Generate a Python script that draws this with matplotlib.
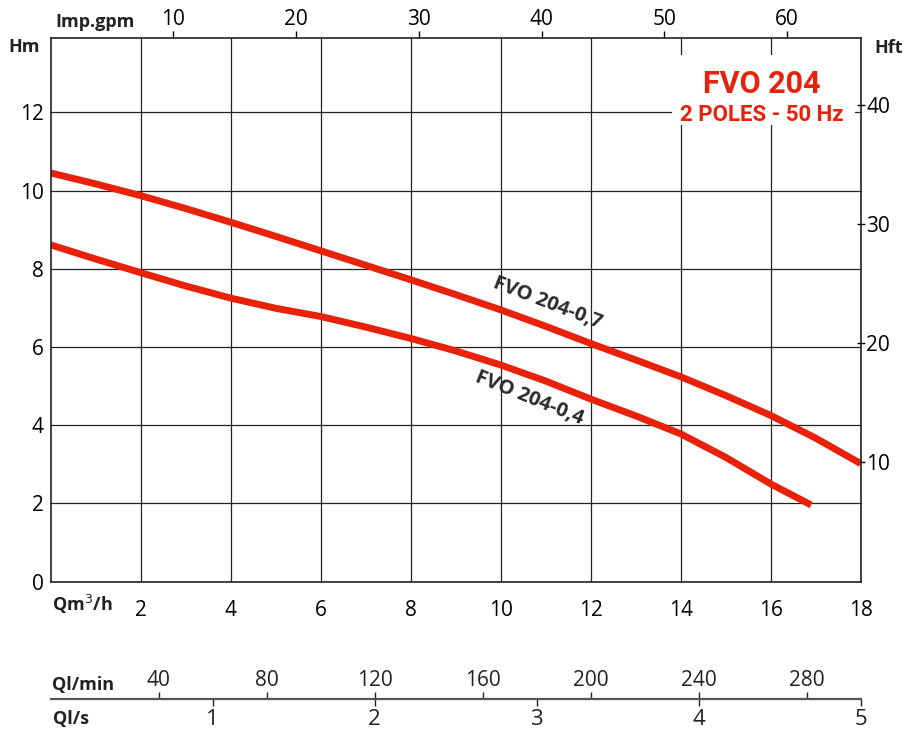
import matplotlib.pyplot as plt
from matplotlib.patches import Rectangle

plt.rcParams["font.family"] = ["Open Sans", "DejaVu Sans"]

# pump curves, Q in m3/h, H in m
q_07 = [0, 1, 2, 3, 4, 5, 6, 7, 8, 9, 10, 11, 12, 13, 14, 15, 16, 17, 18]
h_07 = [10.45, 10.17, 9.87, 9.54, 9.19, 8.83, 8.46, 8.09, 7.72, 7.34, 6.95,
        6.53, 6.09, 5.67, 5.24, 4.76, 4.25, 3.67, 3.02]
q_04 = [0, 1, 2, 3, 4, 5, 6, 7, 8, 9, 10, 11, 12, 13, 14, 15, 16, 16.9]
h_04 = [8.61, 8.25, 7.90, 7.56, 7.25, 6.99, 6.78, 6.51, 6.22, 5.90, 5.54,
        5.13, 4.67, 4.24, 3.78, 3.18, 2.50, 1.96]

q_ticks = [2, 4, 6, 8, 10, 12, 14, 16, 18]
h_ticks = [0, 2, 4, 6, 8, 10, 12]
hft_ticks = [10, 20, 30, 40]
gpm_ticks = [10, 20, 30, 40, 50, 60]
lmin_ticks = [40, 80, 120, 160, 200, 240, 280]
ls_ticks = [1, 2, 3, 4, 5]

red = "#e8210b"
W, H = 905, 731
left, right, top, bottom = 50.7, 860.7, 38, 581.7

fig = plt.figure(figsize=(W / 100, H / 100), dpi=100)
ax = fig.add_axes([left / W, 1 - bottom / H, (right - left) / W, (bottom - top) / H])
ax.set_xlim(0, 18)
ax.set_ylim(0, 13.9)
ax.set_xticks(q_ticks)
ax.set_yticks(h_ticks)
ax.tick_params(axis="x", length=0, pad=13, labelsize=15)
ax.tick_params(axis="y", length=0, pad=5, labelsize=15)
ax.grid(True, color="#222222", linewidth=0.9)
ax.set_axisbelow(True)
for s in ax.spines.values():
    s.set_linewidth(1.2)
    s.set_color("#222222")

ax.plot(q_07, h_07, color=red, linewidth=5, solid_capstyle="butt", solid_joinstyle="round")
ax.plot(q_04, h_04, color=red, linewidth=5, solid_capstyle="butt", solid_joinstyle="round")

ax.text(11.03, 7.13, "FVO 204-0,7", rotation=-21, ha="center", va="center",
        fontsize=14.5, fontweight="bold", color="#2a2a2a")
ax.text(10.63, 4.69, "FVO 204-0,4", rotation=-22, ha="center", va="center",
        fontsize=14.5, fontweight="bold", color="#2a2a2a")

# title box hides the grid behind it
ax.add_patch(Rectangle((0.767, 0.84), 0.226, 0.129, transform=ax.transAxes,
                       facecolor="white", edgecolor="none", zorder=2.5))
ax.text(0.878, 0.916, "FVO 204", transform=ax.transAxes, ha="center", va="center",
        fontsize=22, fontweight="bold", color=red, family=["Roboto", "DejaVu Sans"], zorder=3)
ax.text(0.878, 0.859, "2 POLES - 50 Hz", transform=ax.transAxes, ha="center", va="center",
        fontsize=16, fontweight="bold", color=red, family=["Roboto", "DejaVu Sans"], zorder=3)

# feet on the right
axr = ax.secondary_yaxis("right", functions=(lambda m: m * 3.28084, lambda f: f / 3.28084))
axr.set_yticks(hft_ticks)
axr.tick_params(direction="inout", length=6, width=1, pad=1, labelsize=15)
axr.spines["right"].set_visible(False)

# imperial gpm on top
m3h_to_gpm = 1000 / 60 / 4.54609
axt = ax.secondary_xaxis("top", functions=(lambda q: q * m3h_to_gpm, lambda g: g / m3h_to_gpm))
axt.set_xticks(gpm_ticks)
axt.tick_params(direction="out", length=5, width=1, pad=1, labelsize=15)
axt.spines["top"].set_visible(False)

# flow scales below
flow_y = 699
axq = fig.add_axes([left / W, 1 - flow_y / H, (right - left) / W, 0.0001])
axq.set_xlim(0, 18)
axq.set_yticks([])
axq.set_xticks([])
for k in ["left", "right", "top"]:
    axq.spines[k].set_visible(False)
axq.spines["bottom"].set_color("#555555")
axq.spines["bottom"].set_linewidth(1.6)
axq.patch.set_visible(False)

ax_min = axq.secondary_xaxis("top", functions=(lambda q: q * 1000 / 60, lambda l: l * 60 / 1000))
ax_min.set_xticks(lmin_ticks)
ax_min.tick_params(direction="out", length=5, width=1, pad=1, labelsize=15, colors="#222222")
ax_min.spines["top"].set_visible(False)

ax_s = axq.secondary_xaxis("bottom", functions=(lambda q: q / 3.6, lambda l: l * 3.6))
ax_s.set_xticks(ls_ticks)
ax_s.tick_params(direction="out", length=5, width=1, pad=2, labelsize=16, colors="#222222")
ax_s.spines["bottom"].set_visible(False)

# axis names
lab = dict(fontsize=13, fontweight="bold", color="#222222", va="center")
fig.text(24 / W, 1 - 47 / H, "Hm", ha="center", **lab)
fig.text(95 / W, 1 - 22 / H, "Imp.gpm", ha="center", **lab)
fig.text(889 / W, 1 - 48 / H, "Hft", ha="center", **lab)
fig.text(52 / W, 1 - 604 / H, "Qm$^3$/h", ha="left", **lab)
fig.text(52 / W, 1 - 685 / H, "Ql/min", ha="left", **lab)
fig.text(53 / W, 1 - 719 / H, "Ql/s", ha="left", **lab)

fig.savefig("out.png", dpi=100)
